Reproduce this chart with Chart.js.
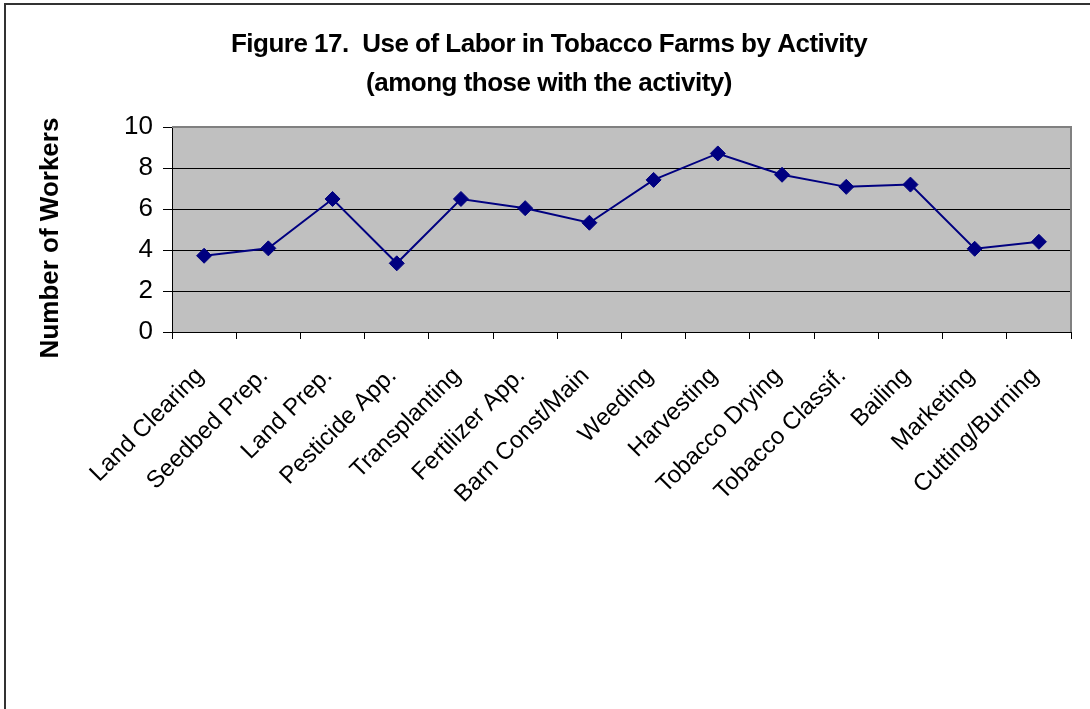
<!DOCTYPE html>
<html>
<head>
<meta charset="utf-8">
<title>Figure 17. Use of Labor in Tobacco Farms by Activity</title>
<script src="https://cdn.jsdelivr.net/npm/chart.js@4/dist/chart.umd.min.js"></script>
<style>
  html, body { margin: 0; padding: 0; background: #fff; }
  canvas { display: block; }
</style>
</head>
<body>
<canvas id="chart" width="1090" height="709"></canvas>
<script>
  // Data
  const activities = [
    'Land Clearing', 'Seedbed Prep.', 'Land Prep.', 'Pesticide App.', 'Transplanting',
    'Fertilizer App.', 'Barn Const/Main', 'Weeding', 'Harvesting', 'Tobacco Drying',
    'Tobacco Classif.', 'Bailing', 'Marketing', 'Cutting/Burning',
  ];
  const workers = [3.72, 4.08, 6.49, 3.35, 6.49, 6.04, 5.33, 7.42, 8.71, 7.67, 7.08, 7.19, 4.06, 4.40];
  const titleLines = ['Figure 17.  Use of Labor in Tobacco Farms by Activity', '(among those with the activity)'];
  const yTitle = 'Number of Workers';
  const yMin = 0, yMax = 10, yStep = 2;

  const FONT = "'Liberation Sans', Arial, sans-serif";
  const NAVY = '#000080';

  // Excel-ish look: gray plot area, gray top/right border, outer frame,
  // two-line title and the y-axis caption (placed like the original).
  const excelLook = {
    id: 'excelLook',
    beforeDraw(chart) {
      const { ctx, chartArea: a } = chart;
      ctx.save();
      ctx.fillStyle = '#c0c0c0';
      ctx.fillRect(a.left, a.top, a.right - a.left, a.bottom - a.top);
      // outer frame (only left + top edges show in the original)
      ctx.strokeStyle = '#333';
      ctx.lineWidth = 2;
      ctx.beginPath();
      ctx.moveTo(5, chart.height);
      ctx.lineTo(5, 4);
      ctx.lineTo(chart.width, 4);
      ctx.stroke();
      ctx.restore();
    },
    beforeDatasetsDraw(chart) {
      const { ctx, chartArea: a } = chart;
      ctx.save();
      ctx.strokeStyle = '#808080';
      ctx.lineWidth = 2;
      ctx.beginPath();
      ctx.moveTo(a.left, a.top);
      ctx.lineTo(a.right, a.top);
      ctx.lineTo(a.right, a.bottom);
      ctx.stroke();
      ctx.restore();
    },
    afterDraw(chart) {
      const { ctx } = chart;
      ctx.save();
      ctx.fillStyle = '#000';
      ctx.font = 'bold 26px ' + FONT;
      ctx.textAlign = 'center';
      ctx.textBaseline = 'alphabetic';
      if ('letterSpacing' in ctx) ctx.letterSpacing = '-0.5px';
      ctx.fillText(titleLines[0], 549, 52);
      ctx.fillText(titleLines[1], 549, 91);
      if ('letterSpacing' in ctx) ctx.letterSpacing = '0px';
      ctx.textBaseline = 'middle';
      ctx.translate(51, 238);
      ctx.rotate(-Math.PI / 2);
      ctx.fillText(yTitle, 0, 0);
      ctx.restore();
    },
  };

  new Chart(document.getElementById('chart'), {
    type: 'line',
    data: {
      labels: activities,
      datasets: [{
        data: workers,
        borderColor: NAVY, borderWidth: 2, tension: 0,
        pointStyle: 'rectRot', pointRadius: 7.5, pointHoverRadius: 7.5,
        pointBackgroundColor: NAVY, pointBorderColor: NAVY, pointBorderWidth: 1,
        fill: false,
      }],
    },
    options: {
      responsive: false, animation: false,
      layout: { padding: { top: 127, right: 19, bottom: 0, left: 0 } },
      plugins: { legend: { display: false }, tooltip: { enabled: false }, title: { display: false } },
      scales: {
        x: {
          offset: true,
          afterFit: (s) => { s.height = 709 - 332; },
          grid: { offset: true, drawOnChartArea: false, drawTicks: true, tickLength: 7, color: '#000' },
          border: { color: '#000', width: 1 },
          ticks: {
            color: '#000', font: { family: FONT, size: 24 },
            minRotation: 45, maxRotation: 45, autoSkip: false, padding: 23, labelOffset: -4,
          },
        },
        y: {
          min: yMin, max: yMax,
          afterFit: (s) => { s.width = 172; },
          grid: {
            color: (c) => (c.tick && c.tick.value === yMax ? '#808080' : '#000'),
            tickColor: '#000', tickLength: 9, lineWidth: 1,
          },
          border: { color: '#000', width: 1 },
          ticks: { stepSize: yStep, color: '#000', font: { family: FONT, size: 26 }, padding: 10 },
        },
      },
    },
    plugins: [excelLook],
  });
</script>
</body>
</html>
